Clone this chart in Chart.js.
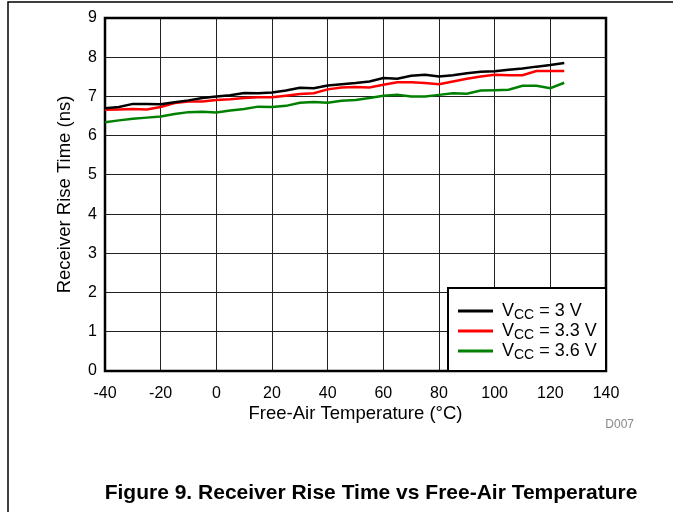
<!DOCTYPE html>
<html>
<head>
<meta charset="utf-8">
<script src="https://cdn.jsdelivr.net/npm/chart.js@4.4.0/dist/chart.umd.min.js"></script>
<style>
  html, body { margin: 0; padding: 0; background: #fff; }
  #wrap { width: 673px; height: 512px; }
</style>
</head>
<body>
<div id="wrap"><canvas id="riseChart" width="673" height="512"></canvas></div>
<script>
// Free-air temperature (°C)
const temps = [-40, -35, -30, -25, -20, -15, -10, -5, 0, 5, 10, 15, 20, 25, 30, 35, 40,
  45, 50, 55, 60, 65, 70, 75, 80, 85, 90, 95, 100, 105, 110, 115, 120, 125];

// Receiver rise time (ns)
const vcc3 = [6.70, 6.73, 6.81, 6.81, 6.80, 6.85, 6.90, 6.96, 7.00, 7.03, 7.09, 7.08, 7.10,
  7.15, 7.22, 7.21, 7.28, 7.31, 7.34, 7.38, 7.47, 7.45, 7.53, 7.55, 7.51, 7.54, 7.59,
  7.63, 7.64, 7.68, 7.71, 7.76, 7.80, 7.85];
const vcc33 = [6.66, 6.67, 6.68, 6.67, 6.73, 6.83, 6.87, 6.87, 6.91, 6.93, 6.96, 6.98, 6.98,
  7.02, 7.06, 7.08, 7.18, 7.23, 7.24, 7.23, 7.30, 7.36, 7.36, 7.34, 7.31, 7.38, 7.45,
  7.51, 7.55, 7.54, 7.54, 7.65, 7.65, 7.65];
const vcc36 = [6.34, 6.39, 6.43, 6.46, 6.49, 6.55, 6.60, 6.61, 6.59, 6.64, 6.68, 6.74, 6.73,
  6.76, 6.84, 6.86, 6.84, 6.89, 6.91, 6.96, 7.02, 7.04, 7.00, 7.00, 7.04, 7.08, 7.07,
  7.15, 7.16, 7.17, 7.27, 7.27, 7.21, 7.35];

const seriesLabels = ['3 V', '3.3 V', '3.6 V'];
const seriesColors = ['#000000', '#ff0000', '#008000'];
const seriesValues = [vcc3, vcc33, vcc36];

const FONT = '"Liberation Sans", Arial, Helvetica, sans-serif';

// cadre de page, bordure du tracé, légende et légende de figure
const decor = {
  id: 'decor',
  beforeDraw(chart) {
    const c = chart.ctx;
    c.save();
    c.fillStyle = '#fff';
    c.fillRect(0, 0, chart.width, chart.height);
    c.strokeStyle = '#000';
    c.lineWidth = 1.5;
    c.beginPath();
    c.moveTo(8, 512);
    c.lineTo(8, 2);
    c.lineTo(673, 2);
    c.stroke();
    c.restore();
  },
  beforeDatasetsDraw(chart) {
    const a = chart.chartArea;
    const c = chart.ctx;
    c.save();
    c.strokeStyle = '#000';
    c.lineWidth = 2.5;
    c.strokeRect(a.left, a.top, a.right - a.left, a.bottom - a.top);
    c.restore();
  },
  afterDraw(chart) {
    const a = chart.chartArea;
    const c = chart.ctx;
    c.save();
    // légende
    const bx = 448, by = 288;
    c.fillStyle = '#fff';
    c.fillRect(bx, by, a.right - bx, a.bottom - by);
    c.strokeStyle = '#000';
    c.lineWidth = 2;
    c.strokeRect(bx, by, a.right - bx, a.bottom - by);
    seriesLabels.forEach((lab, i) => {
      const y = 311 + i * 20;
      c.strokeStyle = seriesColors[i];
      c.lineWidth = 3;
      c.beginPath();
      c.moveTo(458, y);
      c.lineTo(493, y);
      c.stroke();
      c.fillStyle = '#000';
      c.textBaseline = 'middle';
      c.textAlign = 'left';
      c.font = '18px ' + FONT;
      let x = 502;
      c.fillText('V', x, y);
      x += c.measureText('V').width;
      c.font = '14px ' + FONT;
      c.fillText('CC', x, y + 4);
      x += c.measureText('CC').width;
      c.font = '18px ' + FONT;
      c.fillText(' = ' + lab, x, y);
    });
    // code de figure
    c.fillStyle = '#888';
    c.font = '12px ' + FONT;
    c.textAlign = 'right';
    c.fillText('D007', 634, 425);
    // titre
    c.fillStyle = '#000';
    c.font = 'bold 21px ' + FONT;
    c.textAlign = 'center';
    c.fillText('Figure 9. Receiver Rise Time vs Free-Air Temperature', 371, 493);
    c.restore();
  }
};

const ctx = document.getElementById('riseChart').getContext('2d');

new Chart(ctx, {
  type: 'line',
  data: {
    datasets: seriesValues.map((vals, i) => ({
      label: 'VCC = ' + seriesLabels[i],
      data: temps.map((t, j) => ({ x: t, y: vals[j] })),
      borderColor: seriesColors[i],
      borderWidth: 2.5,
      pointRadius: 0,
      tension: 0,
      fill: false
    }))
  },
  options: {
    responsive: false,
    animation: false,
    layout: { padding: { left: 52, top: 18, right: 67, bottom: 0 } },
    plugins: {
      legend: { display: false },
      tooltip: { enabled: false }
    },
    scales: {
      x: {
        type: 'linear',
        min: -40,
        max: 140,
        afterFit(scale) { scale.height = 141; },
        ticks: { stepSize: 20, padding: 13, color: '#000', font: { family: FONT, size: 16 } },
        grid: { color: '#222', lineWidth: 1, drawTicks: false },
        border: { display: false },
        title: {
          display: true,
          text: 'Free-Air Temperature (°C)',
          color: '#000',
          font: { family: FONT, size: 18.5 },
          padding: { top: 0, bottom: 87 }
        }
      },
      y: {
        min: 0,
        max: 9,
        afterFit(scale) { scale.width = 53; },
        ticks: { stepSize: 1, padding: 8, color: '#000', font: { family: FONT, size: 16 } },
        grid: { color: '#222', lineWidth: 1, drawTicks: false },
        border: { display: false },
        title: {
          display: true,
          text: 'Receiver Rise Time (ns)',
          color: '#000',
          font: { family: FONT, size: 18.5 },
          padding: { top: 2, bottom: 0 }
        }
      }
    }
  },
  plugins: [decor]
});
</script>
</body>
</html>
